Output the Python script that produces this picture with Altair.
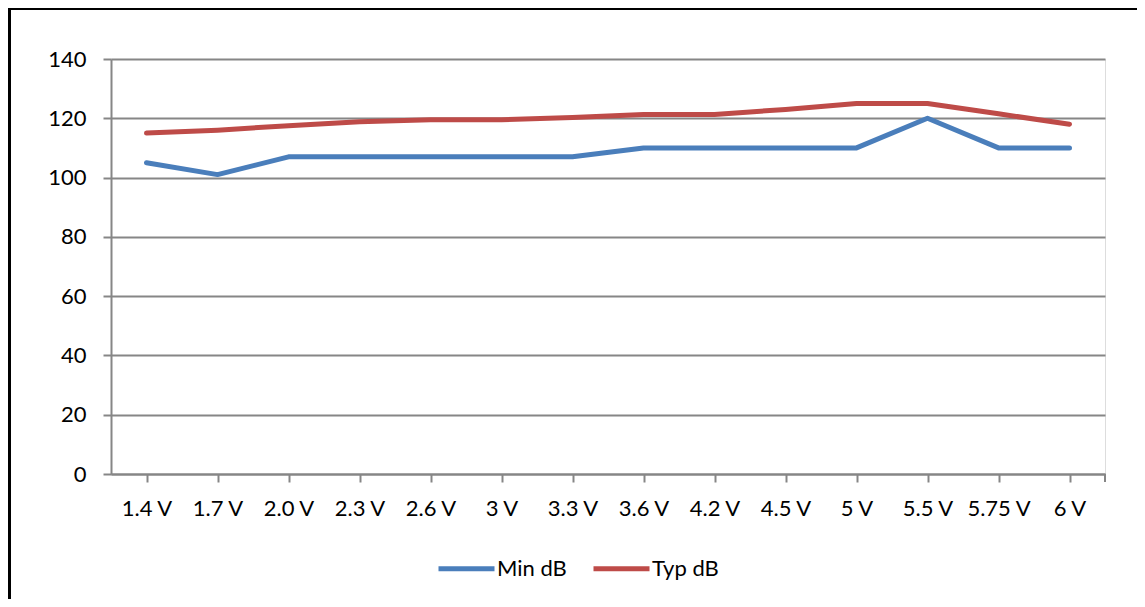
import altair as alt
import pandas as pd

categories = ["1.4 V", "1.7 V", "2.0 V", "2.3 V", "2.6 V", "3 V", "3.3 V",
              "3.6 V", "4.2 V", "4.5 V", "5 V", "5.5 V", "5.75 V", "6 V"]
min_db = [105, 101, 107, 107, 107, 107, 107, 110, 110, 110, 110, 120, 110, 110]
typ_db = [115, 116, 117.5, 118.8, 119.5, 119.5, 120.3, 121.3, 121.3, 123, 125, 125, 121.5, 118]
series_names = ["Min dB", "Typ dB"]
series_colors = ["#4A7EBB", "#BE4B48"]

rows = []
for name, vals in zip(series_names, [min_db, typ_db]):
    for c, v in zip(categories, vals):
        rows.append({"cat": c, "value": v, "series": name})
df = pd.DataFrame(rows)

W, H = 994, 415
GRAY = "#868686"
FONT = "Lato"
FS = 22

lines = alt.Chart(df).mark_line(strokeWidth=5, strokeCap="round", strokeJoin="round").encode(
    x=alt.X("cat:N", sort=categories, title=None,
            scale=alt.Scale(paddingInner=0, paddingOuter=0),
            axis=alt.Axis(labelAngle=0, bandPosition=0, tickSize=8, tickWidth=2, tickColor=GRAY,
                          domainColor=GRAY, domainWidth=2, labelPadding=16, grid=False,
                          labelFontSize=FS, labelColor="black", labelFont=FONT)),
    y=alt.Y("value:Q", title=None,
            scale=alt.Scale(domain=[0, 140], nice=False),
            axis=alt.Axis(values=list(range(0, 141, 20)), tickSize=8, tickWidth=2, tickColor=GRAY,
                          domainColor=GRAY, domainWidth=2, gridColor=GRAY, gridWidth=2,
                          labelPadding=17, labelFontSize=FS, labelColor="black", labelFont=FONT)),
    color=alt.Color("series:N", scale=alt.Scale(domain=series_names, range=series_colors),
                    legend=alt.Legend(title=None, orient="none", direction="horizontal",
                                      legendX=325, legendY=479, symbolType="stroke",
                                      symbolStrokeWidth=5, symbolSize=3136, labelFontSize=FS,
                                      labelFont=FONT, labelColor="black", labelOffset=0,
                                      columnPadding=16, padding=0)),
)

end_tick = alt.Chart(df).mark_rule(color=GRAY, strokeWidth=2).encode(
    x=alt.value(W), y=alt.value(H), y2=alt.value(H + 8))

frame = alt.Chart(df).mark_rect(fill=None, stroke="black", strokeWidth=3).encode(
    x=alt.value(-102), x2=alt.value(1200), y=alt.value(-51), y2=alt.value(700))

chart = alt.layer(lines, end_tick, frame).properties(
    width=W, height=H,
    autosize=alt.AutoSizeParams(type="none"),
    padding={"left": 103, "top": 51, "right": 32, "bottom": 125},
).configure_view(stroke=None).configure(font=FONT)

chart.save("out.html", embed_options={"renderer": "svg", "actions": False})
